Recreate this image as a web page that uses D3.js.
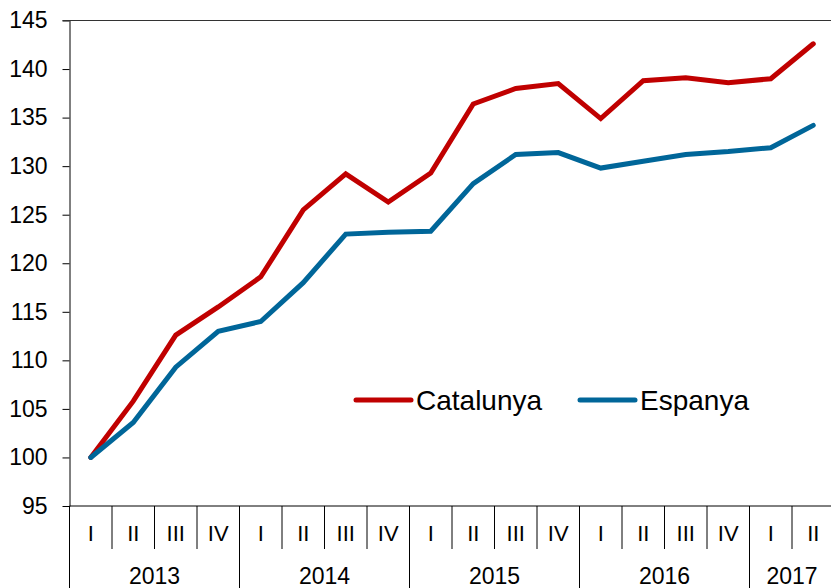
<!DOCTYPE html>
<html>
<head>
<meta charset="utf-8">
<script src="https://cdn.jsdelivr.net/npm/d3@7"></script>
<style>
  body { margin: 0; background: #fff; }
  svg { display: block; font-family: "Liberation Sans", Arial, sans-serif; }
</style>
</head>
<body>
<div id="chart"></div>
<script>
// quarters and years shown under the x axis
const years = ["2013", "2014", "2015", "2016", "2017"];
const quarterNames = ["I", "II", "III", "IV"];
const periods = [
  "2013-I", "2013-II", "2013-III", "2013-IV",
  "2014-I", "2014-II", "2014-III", "2014-IV",
  "2015-I", "2015-II", "2015-III", "2015-IV",
  "2016-I", "2016-II", "2016-III", "2016-IV",
  "2017-I", "2017-II"
];

// series values (index, 2013 I = 100)
const catalunya = [100, 105.8, 112.6, 115.5, 118.6, 125.5, 129.2, 126.3, 129.3, 136.4, 138.0, 138.5, 134.9, 138.8, 139.1, 138.6, 139.0, 142.6];
const espanya = [100, 103.6, 109.3, 113.0, 114.0, 118.0, 123.0, 123.2, 123.3, 128.2, 131.2, 131.4, 129.8, 130.5, 131.2, 131.5, 131.9, 134.2];

const yTicks = [95, 100, 105, 110, 115, 120, 125, 130, 135, 140, 145];

const series = [
  { name: "Catalunya", values: catalunya, color: "#c00000" },
  { name: "Espanya", values: espanya, color: "#006699" }
];

const W = 831, H = 588;
const margin = { top: 20.5, left: 69.5, bottom: 82 };
const bandW = 42.5;
const plotW = bandW * periods.length;
const plotH = H - margin.top - margin.bottom;

const svg = d3.select("#chart").append("svg")
  .attr("width", W)
  .attr("height", H);

const g = svg.append("g")
  .attr("transform", `translate(${margin.left},${margin.top})`);

const x = d3.scaleBand().domain(periods).range([0, plotW]);
const y = d3.scaleLinear().domain([95, 145]).range([plotH, 0]);

// y axis
const yAxis = g.append("g")
  .call(d3.axisLeft(y).tickValues(yTicks).tickSize(7).tickPadding(15).tickSizeOuter(0));
yAxis.select(".domain").attr("stroke", "#000");
yAxis.selectAll(".tick line").attr("stroke", "#000");
yAxis.selectAll(".tick text")
  .attr("fill", "#000")
  .style("font-size", "23px")
  .attr("font-family", "Liberation Sans, Arial, sans-serif");

// top border
g.append("line")
  .attr("x1", -7).attr("x2", W)
  .attr("y1", 0).attr("y2", 0)
  .attr("stroke", "#333").attr("stroke-width", 1);

// x axis line
g.append("line")
  .attr("x1", 0).attr("x2", W)
  .attr("y1", plotH).attr("y2", plotH)
  .attr("stroke", "#000").attr("stroke-width", 1);

// left axis continues down through the labels
g.append("line")
  .attr("x1", 0).attr("x2", 0)
  .attr("y1", plotH).attr("y2", H)
  .attr("stroke", "#000");

// quarter dividers and labels
const axisG = g.append("g").attr("class", "xlabels");
periods.forEach((p, i) => {
  const q = p.split("-")[1];
  const left = x(p);
  const isYearStart = q === "I";
  if (i > 0) {
    axisG.append("line")
      .attr("x1", left).attr("x2", left)
      .attr("y1", plotH)
      .attr("y2", isYearStart ? H : plotH + 43)
      .attr("stroke", "#000");
  }
  axisG.append("text")
    .attr("x", left + x.bandwidth() / 2)
    .attr("y", plotH + 35)
    .attr("text-anchor", "middle")
    .style("font-size", "22px")
    .text(q);
});

// year labels centred on their quarters
years.forEach(yr => {
  const qs = periods.filter(p => p.startsWith(yr));
  const x0 = x(qs[0]);
  const x1 = x(qs[qs.length - 1]) + x.bandwidth();
  axisG.append("text")
    .attr("x", (x0 + x1) / 2)
    .attr("y", plotH + 78)
    .attr("text-anchor", "middle")
    .style("font-size", "23px")
    .text(yr);
});

// lines
const line = d3.line()
  .x((d, i) => x(periods[i]) + x.bandwidth() / 2)
  .y(d => y(d));

series.forEach(s => {
  g.append("path")
    .datum(s.values)
    .attr("fill", "none")
    .attr("stroke", s.color)
    .attr("stroke-width", 5)
    .attr("stroke-linejoin", "miter")
    .attr("stroke-linecap", "round")
    .attr("d", line);
});

// legend
const legend = svg.append("g").attr("transform", "translate(356,400)");
const legendPos = [0, 224];
series.forEach((s, i) => {
  const lg = legend.append("g").attr("transform", `translate(${legendPos[i]},0)`);
  lg.append("line")
    .attr("x1", 0).attr("x2", 55)
    .attr("y1", 0).attr("y2", 0)
    .attr("stroke", s.color)
    .attr("stroke-width", 5)
    .attr("stroke-linecap", "round");
  lg.append("text")
    .attr("x", 60)
    .attr("y", 10)
    .style("font-size", "28px")
    .text(s.name);
});
</script>
</body>
</html>
